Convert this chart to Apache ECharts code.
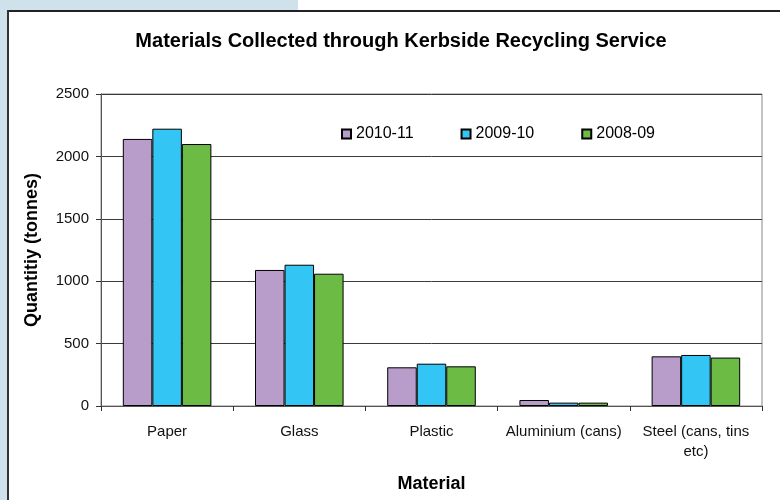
<!DOCTYPE html>
<html>
<head>
<meta charset="utf-8">
<script src="https://cdn.jsdelivr.net/npm/echarts@6/dist/echarts.min.js"></script>
<style>html,body{margin:0;padding:0;background:#fff}#c{width:780px;height:500px}</style>
</head>
<body>
<div id="c"></div>
<script>
var categories = ['Paper', 'Glass', 'Plastic', 'Aluminium (cans)', 'Steel (cans, tins\netc)'];
var seriesNames = ['2010-11', '2009-10', '2008-09'];
var s2010 = [2140, 1090, 310, 48, 398];
var s2009 = [2222, 1132, 339, 27, 409];
var s2008 = [2099, 1060, 318, 27, 388];
var yTicks = [0, 500, 1000, 1500, 2000, 2500];

var colors = ['#b89cc9', '#33c5f3', '#6bbb45'];
var FONT = 'Liberation Sans, Arial, sans-serif';
var chart = echarts.init(document.getElementById('c'), null, {renderer: 'canvas'});
var vals = [s2010, s2009, s2008];
chart.setOption({
  animation: false,
  backgroundColor: '#ffffff',
  graphic: [
    {type: 'rect', shape: {x: 0, y: 0, width: 7, height: 500}, style: {fill: '#cfe1ea'}, silent: true},
    {type: 'rect', shape: {x: 0, y: 0, width: 298, height: 10}, style: {fill: '#cfe1ea'}, silent: true},
    {type: 'line', shape: {x1: 8, y1: 11, x2: 780, y2: 11}, style: {stroke: '#222', lineWidth: 2}, silent: true},
    {type: 'line', shape: {x1: 8, y1: 10, x2: 8, y2: 500}, style: {stroke: '#333', lineWidth: 2}, silent: true}
  ],
  title: {
    text: 'Materials Collected through Kerbside Recycling Service',
    left: 396, top: 26, textAlign: 'center',
    textStyle: {fontFamily: FONT, fontSize: 20, fontWeight: 'bold', color: '#000'}
  },
  legend: {
    data: seriesNames,
    left: 336, top: 121,
    itemWidth: 9, itemHeight: 9, itemGap: 47,
    icon: 'rect',
    textStyle: {fontFamily: FONT, fontSize: 16, color: '#000'}
  },
  grid: {left: 101, right: 18, top: 94, bottom: 94, show: true, borderColor: '#888', borderWidth: 1, containLabel: false},
  xAxis: {
    type: 'category', data: categories,
    name: 'Material', nameLocation: 'middle', nameGap: 69,
    nameTextStyle: {fontFamily: FONT, fontSize: 18, fontWeight: 'bold', color: '#000'},
    axisLine: {lineStyle: {color: '#555', width: 1}},
    axisTick: {show: true, alignWithLabel: false, length: 5, lineStyle: {color: '#333'}},
    axisLabel: {fontFamily: FONT, fontSize: 15, color: '#111', margin: 16, lineHeight: 20, interval: 0}
  },
  yAxis: {
    type: 'value', min: 0, max: 2500, interval: 500,
    name: 'Quantitiy (tonnes)', nameLocation: 'middle', nameGap: 60, nameRotate: 90,
    nameTextStyle: {fontFamily: FONT, fontSize: 18, fontWeight: 'bold', color: '#000'},
    axisLine: {show: true, lineStyle: {color: '#555'}},
    axisTick: {show: true, length: 5, lineStyle: {color: '#333'}},
    axisLabel: {fontFamily: FONT, fontSize: 15, color: '#111', margin: 12,
      formatter: function (v) { return yTicks.indexOf(v) >= 0 ? String(v) : ''; }},
    splitLine: {show: true, lineStyle: {color: '#3a3a3a', width: 1}}
  },
  series: seriesNames.map(function (n, i) {
    return {
      name: n, type: 'bar', data: vals[i],
      barGap: '0%', barCategoryGap: '33%',
      itemStyle: {color: colors[i], borderColor: '#000', borderWidth: 1}
    };
  })
});
</script>
</body>
</html>
